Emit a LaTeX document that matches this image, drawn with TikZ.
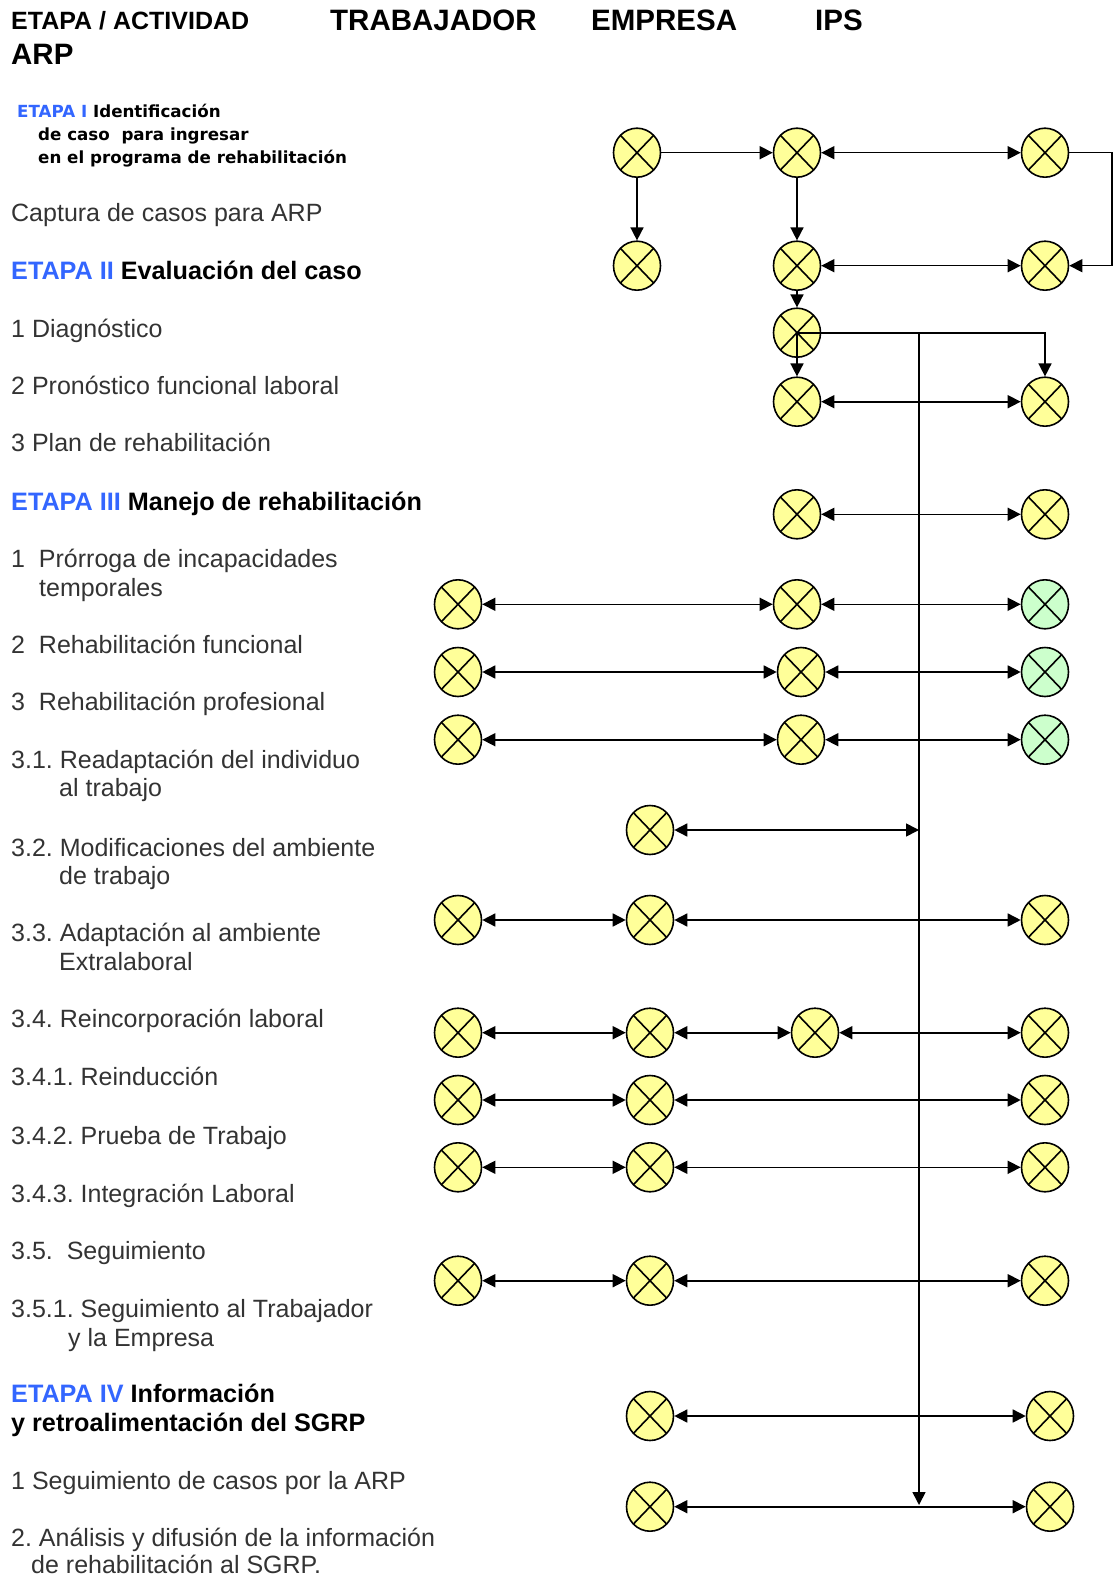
\documentclass[tikz,border=0pt]{standalone}
\usepackage{fontspec}
\setmainfont{Liberation Sans}
\newfontfamily\verdfont{DejaVu Sans}
\usetikzlibrary{arrows.meta,shapes.geometric}
\frenchspacing

\definecolor{xyellow}{HTML}{FFFF99}
\definecolor{xgreen}{HTML}{CCFFCC}
\definecolor{etapablue}{HTML}{3366FF}
\definecolor{txtgray}{HTML}{333333}

\tikzset{
  xnode/.style={ellipse,draw,line width=1.6pt,fill=xyellow,minimum width=47pt,minimum height=49pt,inner sep=0pt,
    path picture={\draw[line width=1.6pt] (path picture bounding box.north west) -- (path picture bounding box.south east)
      (path picture bounding box.north east) -- (path picture bounding box.south west);}},
  gnode/.style={xnode,fill=xgreen},
  lnk/.style={line width=1.6pt,-{Triangle[length=13pt,width=13pt]}},
  dlnk/.style={line width=1.6pt,{Triangle[length=13pt,width=13pt]}-{Triangle[length=13pt,width=13pt]}},
  item/.style={anchor=base west,inner sep=0pt,text=txtgray,font=\fontsize{25}{29}\selectfont},
  etapa/.style={anchor=base west,inner sep=0pt,font=\bfseries\fontsize{25.2}{29}\selectfont},
  ebold/.style={anchor=base west,inner sep=0pt,font=\verdfont\bfseries\fontsize{16.7}{23}\selectfont},
  hdsmall/.style={anchor=base west,inner sep=0pt,font=\bfseries\fontsize{25}{29}\selectfont},
  hdbig/.style={anchor=base west,inner sep=0pt,font=\bfseries\fontsize{29.5}{34}\selectfont}
}

\begin{document}
\begin{tikzpicture}[x=1pt,y=-1pt]
        \useasboundingbox (0,0) rectangle (1115,1578);
        % encabezado
        \node[hdsmall] (h0) at (11,30) {ETAPA / ACTIVIDAD};
        \node[hdbig] (h1) at (330,31) {TRABAJADOR};
        \node[hdbig] (h2) at (591,31) {EMPRESA};
        \node[hdbig] (h3) at (815,31) {IPS};
        \node[hdbig] (h4) at (11,65) {ARP};

        % etapas y actividades
        \node[ebold] (e1a) at (17,118) {\textcolor{etapablue}{ETAPA I} Identificación};
        \node[ebold] (e1b) at (38,141) {de caso\ \ para ingresar};
        \node[ebold] (e1c) at (38,164) {en el programa de rehabilitación};
        \node[item] (l1) at (11,221.7) {Captura de casos para ARP};
        \node[etapa] (l2) at (11,279.3) {\textcolor{etapablue}{ETAPA II} Evaluación del caso};
        \node[item] (l3) at (11,337.3) {1 Diagnóstico};
        \node[item] (l4) at (11,394) {2 Pronóstico funcional laboral};
        \node[item] (l5) at (11,451.7) {3 Plan de rehabilitación};
        \node[etapa] (l6) at (11,510) {\textcolor{etapablue}{ETAPA III} Manejo de rehabilitación};
        \node[item] (l7) at (11,567.3) {1\ \ Prórroga de incapacidades};
        \node[item] (l7b) at (39,596) {temporales};
        \node[item] (l8) at (11,653.3) {2\ \ Rehabilitación funcional};
        \node[item] (l9) at (11,710.7) {3\ \ Rehabilitación profesional};
        \node[item] (l10) at (11,768.3) {3.1. Readaptación del individuo};
        \node[item] (l10b) at (59,796.7) {al trabajo};
        \node[item] (l11) at (11,856) {3.2. Modificaciones del ambiente};
        \node[item] (l11b) at (59,884.3) {de trabajo};
        \node[item] (l12) at (11,941.7) {3.3. Adaptación al ambiente};
        \node[item] (l12b) at (59,970.7) {Extralaboral};
        \node[item] (l13) at (11,1027.3) {3.4. Reincorporación laboral};
        \node[item] (l14) at (11,1085) {3.4.1. Reinducción};
        \node[item] (l15) at (11,1144) {3.4.2. Prueba de Trabajo};
        \node[item] (l16) at (11,1202.3) {3.4.3. Integración Laboral};
        \node[item] (l17) at (11,1259) {3.5.\ \ Seguimiento};
        \node[item] (l18) at (11,1317.7) {3.5.1. Seguimiento al Trabajador};
        \node[item] (l18b) at (68,1346.7) {y la Empresa};
        \node[etapa] (l19) at (11,1402.7) {\textcolor{etapablue}{ETAPA IV} Información};
        \node[etapa] (l19b) at (11,1431.7) {y retroalimentación del SGRP};
        \node[item] (l20) at (11,1489.3) {1 Seguimiento de casos por la ARP};
        \node[item] (l21) at (11,1546.7) {2. Análisis y difusión de la información};
        \node[item] (l21b) at (31,1573.3) {de rehabilitación al SGRP.};

        % nodos
        \node[xnode] (a1) at (637,152.7) {};
        \node[xnode] (b1) at (797,152.7) {};
        \node[xnode] (c1) at (1045,152.7) {};
        \node[xnode] (a2) at (637,265.7) {};
        \node[xnode] (b2) at (797,265.7) {};
        \node[xnode] (c2) at (1045,265.7) {};
        \node[xnode] (b3) at (797,332.7) {};
        \node[xnode] (b4) at (797,401.7) {};
        \node[xnode] (c4) at (1045,401.7) {};
        \node[xnode] (b5) at (797,514.3) {};
        \node[xnode] (c5) at (1045,514.3) {};
        \node[xnode] (t6) at (458,604.3) {};
        \node[xnode] (b6) at (797,604.3) {};
        \node[gnode] (c6) at (1045,604.3) {};
        \node[xnode] (t7) at (458,672) {};
        \node[xnode] (b7) at (801,672) {};
        \node[gnode] (c7) at (1045,672) {};
        \node[xnode] (t8) at (458,739.7) {};
        \node[xnode] (b8) at (801,739.7) {};
        \node[gnode] (c8) at (1045,739.7) {};
        \node[xnode] (s9) at (650,830) {};
        \node[xnode] (t10) at (458,920) {};
        \node[xnode] (s10) at (650,920) {};
        \node[xnode] (c10) at (1045,920) {};
        \node[xnode] (t11) at (458,1032.7) {};
        \node[xnode] (s11) at (650,1032.7) {};
        \node[xnode] (m11) at (815,1032.7) {};
        \node[xnode] (c11) at (1045,1032.7) {};
        \node[xnode] (t12) at (458,1100) {};
        \node[xnode] (s12) at (650,1100) {};
        \node[xnode] (c12) at (1045,1100) {};
        \node[xnode] (t13) at (458,1167.3) {};
        \node[xnode] (s13) at (650,1167.3) {};
        \node[xnode] (c13) at (1045,1167.3) {};
        \node[xnode] (t14) at (458,1280.7) {};
        \node[xnode] (s14) at (650,1280.7) {};
        \node[xnode] (c14) at (1045,1280.7) {};
        \node[xnode] (s15) at (650,1416) {};
        \node[xnode] (c15) at (1050,1416) {};
        \node[xnode] (s16) at (650,1506.7) {};
        \node[xnode] (c16) at (1050,1506.7) {};

        \coordinate (loop) at (1112,152.7);
        \coordinate (vtop) at (919,332.7);
        \coordinate (vbot) at (919,1505);
        \coordinate (v9) at (919,830);

        % conexiones
        \draw[lnk] (a1) -- (b1);
        \draw[lnk] (a1) -- (a2);
        \draw[lnk] (b1) -- (b2);
        \draw[dlnk] (b1) -- (c1);
        \draw[dlnk] (b2) -- (c2);
        \draw[lnk] (c1) -- (loop) |- (c2);
        \draw[lnk] (b2) -- (b3);
        \draw[lnk] (b3.center) -| (c4);
        \draw[lnk] (b3.center) -- (b4);
        \draw[lnk] (vtop) -- (vbot);
        \draw[dlnk] (b4) -- (c4);
        \draw[dlnk] (b5) -- (c5);
        \draw[dlnk] (t6) -- (b6);
        \draw[dlnk] (b6) -- (c6);
        \draw[dlnk] (t7) -- (b7);
        \draw[dlnk] (b7) -- (c7);
        \draw[dlnk] (t8) -- (b8);
        \draw[dlnk] (b8) -- (c8);
        \draw[dlnk] (s9) -- (v9);
        \draw[dlnk] (t10) -- (s10);
        \draw[dlnk] (s10) -- (c10);
        \draw[dlnk] (t11) -- (s11);
        \draw[dlnk] (s11) -- (m11);
        \draw[dlnk] (m11) -- (c11);
        \draw[dlnk] (t12) -- (s12);
        \draw[dlnk] (s12) -- (c12);
        \draw[dlnk] (t13) -- (s13);
        \draw[dlnk] (s13) -- (c13);
        \draw[dlnk] (t14) -- (s14);
        \draw[dlnk] (s14) -- (c14);
        \draw[dlnk] (s15) -- (c15);
        \draw[dlnk] (s16) -- (c16);
    \end{tikzpicture}
\end{document}
